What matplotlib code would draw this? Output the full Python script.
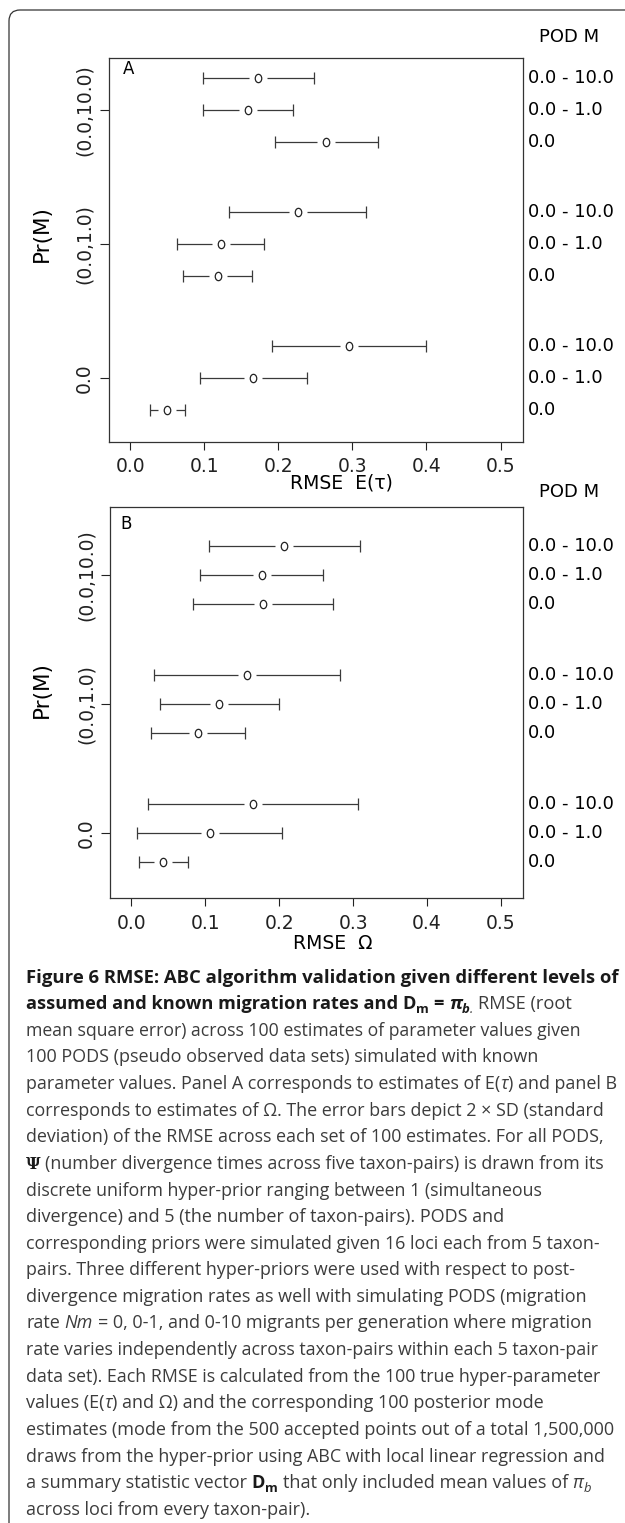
import matplotlib
matplotlib.use('Agg')
import matplotlib.pyplot as plt
from matplotlib.path import Path
from matplotlib.patches import FancyBboxPatch
from matplotlib.transforms import Affine2D, IdentityTransform, blended_transform_factory
from matplotlib.font_manager import FontProperties

# ---------------- data ----------------
prior_labels = ["0.0", "(0.0,1.0)", "(0.0,10.0)"]          # Pr(M), bottom -> top
pod_labels = ["0.0 - 10.0", "0.0 - 1.0", "0.0"]            # POD M within each group, top -> bottom
x_ticks = [0.0, 0.1, 0.2, 0.3, 0.4, 0.5]

# panel A : RMSE E(tau)   rows = prior groups (bottom->top), cols = POD M (top->bottom)
tau_mean = [[0.295, 0.166, 0.050],
            [0.226, 0.122, 0.118],
            [0.173, 0.159, 0.265]]
tau_err = [[0.104, 0.072, 0.024],
           [0.092, 0.059, 0.047],
           [0.075, 0.061, 0.069]]

# panel B : RMSE Omega
omega_mean = [[0.165, 0.106, 0.043],
              [0.156, 0.119, 0.090],
              [0.207, 0.176, 0.178]]
omega_err = [[0.142, 0.098, 0.033],
             [0.126, 0.081, 0.063],
             [0.102, 0.083, 0.095]]

# ---------------- figure ----------------
W, H = 625, 1523
fig = plt.figure(figsize=(W / 100, H / 100), dpi=100)
plt.rcParams['font.family'] = ['DejaVu Sans']

LINE_C = '#3a3a3a'
FS = 13.5
FS_R = 13.0

ell = Path.unit_circle().transformed(Affine2D().scale(0.78, 1.0))


def rect(l, t, r, b):
    return [l / W, 1 - b / H, (r - l) / W, (b - t) / H]


def panel(box, means, errs, offset, ylim, xlabel, xlab_xy, ylab_y, letter, letter_xy, podm_y):
    l, t, r, b = box
    ax = fig.add_axes(rect(l, t, r, b))
    xs, ys, es = [], [], []
    for g in range(3):
        for k, off in enumerate([offset, 0.0, -offset]):
            xs.append(means[g][k])
            es.append(errs[g][k])
            ys.append(g + off)
    ax.errorbar(xs, ys, xerr=es, fmt='none', ecolor=LINE_C, elinewidth=0.9,
                capsize=4.2, capthick=0.9, zorder=2)
    ax.plot(xs, ys, ls='none', marker='s', ms=12.5, mfc='white', mec='none', zorder=3)
    ax.plot(xs, ys, ls='none', marker=ell, ms=6, mfc='white', mec='#222222', mew=0.9, zorder=4)

    ax.set_xlim(-0.029, 0.5297)
    ax.set_ylim(*ylim)
    ax.set_xticks(x_ticks)
    ax.set_xticklabels([f"{v:.1f}" for v in x_ticks], fontsize=FS)
    ax.set_yticks([0, 1, 2])
    ax.set_yticklabels(prior_labels, rotation=90, va='center', fontsize=FS)
    ax.tick_params(axis='x', length=6, width=0.8, pad=5, colors='#222222')
    ax.tick_params(axis='y', length=6.5, width=0.8, pad=4, colors='#222222')
    for s in ax.spines.values():
        s.set_linewidth(0.9)
        s.set_color('#333333')

    ax.set_xlabel(xlabel, fontsize=FS)
    ax.xaxis.set_label_coords((xlab_xy[0] - l) / (r - l), (b - xlab_xy[1]) / (b - t))
    ax.xaxis.label.set_va('center')
    ax.set_ylabel("Pr(M)", fontsize=15.5)
    ax.yaxis.set_label_coords((42 - l) / (r - l), (b - ylab_y) / (b - t))
    ax.yaxis.label.set_va('center')

    tr = blended_transform_factory(ax.transAxes, ax.transData)
    xr = (528.0 - l) / (r - l)
    for g in range(3):
        for k, off in enumerate([offset, 0.0, -offset]):
            ax.text(xr, g + off, pod_labels[k], transform=tr, ha='left', va='center',
                    fontsize=FS_R, clip_on=False)
    fig.text(letter_xy[0] / W, 1 - letter_xy[1] / H, letter, fontsize=12,
             ha='center', va='center')
    fig.text(539.3 / W, 1 - podm_y / H, "POD M", fontsize=FS_R, ha='left', va='center')
    return ax


# Panel A
axA = panel((108.8, 58, 522.5, 442), tau_mean, tau_err, 0.24, (-0.477, 2.39),
            "RMSE  E(τ)", (341.7, 483), 233.5, "A", (129, 69), 36.5)
# Panel B
axB = panel((110.0, 506.7, 523.0, 898.3), omega_mean, omega_err, 0.225, (-0.503, 2.53),
            "RMSE  Ω", (332.6, 943.3), 690, "B", (126.5, 524), 491.7)

# outer frame (rounded top-left corner, open to the right / bottom)
frame = FancyBboxPatch((9, -30), 700, (H - 10) + 30,
                       boxstyle='round,pad=0,rounding_size=11',
                       transform=IdentityTransform(), fill=False,
                       ec='#333333', lw=0.9)
fig.add_artist(frame)

# ---------------- caption ----------------
fig.canvas.draw()
renderer = fig.canvas.get_renderer()
CAP_FAM = ['Open Sans', 'DejaVu Sans']


def fprop(size, weight='normal', style='normal', family=None):
    return FontProperties(family=family or CAP_FAM, size=size, weight=weight, style=style)


def text_w(s, fp):
    t = fig.text(0, 0, s, fontproperties=fp)
    w = t.get_window_extent(renderer).width
    t.remove()
    return w


ref_line = "mean square error) across 100 estimates of parameter values given"
CS = 10 * 555.0 / text_w(ref_line, fprop(10))

REG_C = '#3c3c3c'
BOLD_C = '#1a1a1a'
X0 = 26.0


def draw_line(y_center, runs, base):
    x = X0
    yb = y_center + 6.0
    made = []
    for txt, st in runs:
        size = base * st.get('scale', 1.0)
        fp = fprop(size, st.get('weight', 'normal'), st.get('style', 'normal'), st.get('family'))
        lead = len(txt) - len(txt.lstrip(' '))
        trail = len(txt) - len(txt.rstrip(' '))
        core = txt.strip(' ')
        fps = fprop(base, st.get('weight', 'normal'))
        sw = text_w("n n", fps) - text_w("nn", fps)
        x += lead * sw
        if core:
            col = BOLD_C if st.get('weight') == 'bold' else REG_C
            t = fig.text(x / W, 1 - (yb + st.get('dy', 0)) / H, core, fontproperties=fp,
                         color=col, ha='left', va='baseline')
            made.append(t)
            x = t.get_window_extent(renderer).x1
        x += trail * sw
    return x, made


R = {}
B = {'weight': 'bold'}
BSUB = {'weight': 'bold', 'scale': 0.72, 'dy': 4}
BI = {'weight': 'bold', 'style': 'italic'}
BISUB = {'weight': 'bold', 'style': 'italic', 'scale': 0.72, 'dy': 4}
I = {'style': 'italic'}
ISUB = {'style': 'italic', 'scale': 0.72, 'dy': 4}
PSI = {'family': ['DejaVu Serif'], 'weight': 'bold', 'scale': 0.9}

caption = [
    [("Figure 6 RMSE: ABC algorithm validation given different levels of", B)],
    [("assumed and known migration rates and ", B), ("D", B), ("m", BSUB), (" = ", B),
     ("π", BI), ("b", BISUB), (".", ISUB), (" RMSE (root", R)],
    [("mean square error) across 100 estimates of parameter values given", R)],
    [("100 PODS (pseudo observed data sets) simulated with known", R)],
    [("parameter values. Panel A corresponds to estimates of E(", R), ("τ", I),
     (") and panel B", R)],
    [("corresponds to estimates of Ω. The error bars depict 2 × SD (standard", R)],
    [("deviation) of the RMSE across each set of 100 estimates. For all PODS,", R)],
    [("Ψ", PSI), (" (number divergence times across five taxon-pairs) is drawn from its", R)],
    [("discrete uniform hyper-prior ranging between 1 (simultaneous", R)],
    [("divergence) and 5 (the number of taxon-pairs). PODS and", R)],
    [("corresponding priors were simulated given 16 loci each from 5 taxon-", R)],
    [("pairs. Three different hyper-priors were used with respect to post-", R)],
    [("divergence migration rates as well with simulating PODS (migration", R)],
    [("rate ", R), ("Nm", I), (" = 0, 0-1, and 0-10 migrants per generation where migration", R)],
    [("rate varies independently across taxon-pairs within each 5 taxon-pair", R)],
    [("data set). Each RMSE is calculated from the 100 true hyper-parameter", R)],
    [("values (E(", R), ("τ", I), (") and Ω) and the corresponding 100 posterior mode", R)],
    [("estimates (mode from the 500 accepted points out of a total 1,500,000", R)],
    [("draws from the hyper-prior using ABC with local linear regression and", R)],
    [("a summary statistic vector ", R), ("D", B), ("m", BSUB),
     (" that only included mean values of ", R), ("π", I), ("b", ISUB)],
    [("across loci from every taxon-pair).", R)],
]
# right edge (px) of each caption line in the reference layout
line_right = [615.8, 574, 581, 539, 616, 605, 604, 605, 544, 504, 598.6, 578, 589,
              594.6, 598, 600, 544, 614, 606, 590, 311]

for i, runs in enumerate(caption):
    yc = 976.7 + 26.6 * i
    xe, made = draw_line(yc, runs, CS)
    for t in made:
        t.remove()
    factor = (line_right[i] - X0) / (xe - X0)
    factor = min(max(factor, 0.94), 1.06)
    draw_line(yc, runs, CS * factor)

fig.savefig('out.png', dpi=100)
